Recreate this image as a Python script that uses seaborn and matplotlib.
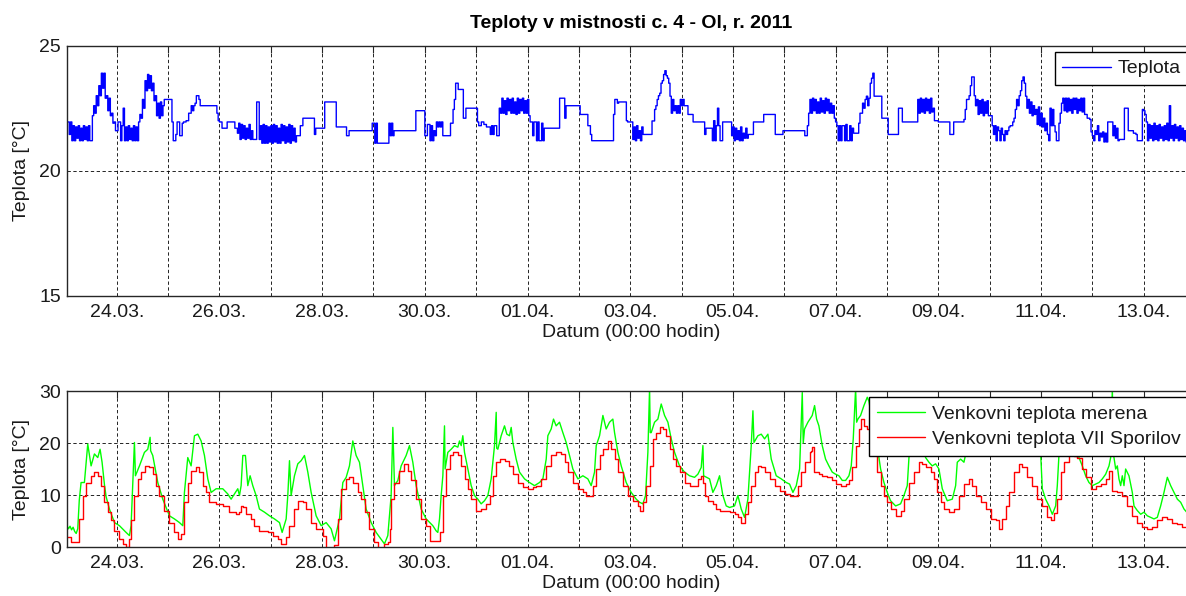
import numpy as np
import pandas as pd
import matplotlib
matplotlib.use("Agg")
import matplotlib.pyplot as plt
import seaborn as sns

# ---------------- texts ----------------
title = "Teploty v mistnosti c. 4 - Ol, r. 2011"
y_label = "Teplota [°C]"
x_label = "Datum (00:00 hodin)"
name_room = "Teplota"
name_meas = "Venkovni teplota merena"
name_spor = "Venkovni teplota VII Sporilov"

# x axis: days since 23.03. 00:00
day_ticks = list(range(1, 22))
day_labels = ["24.03.", "", "26.03.", "", "28.03.", "", "30.03.", "", "01.04.", "",
              "03.04.", "", "05.04.", "", "07.04.", "", "09.04.", "", "11.04.", "", "13.04."]
room_yticks = [15, 20, 25]
out_yticks = [0, 10, 20, 30]

# ---------------- room temperature (sampled every 0.025 day) ----------------
room_step = 0.025
room_0323 = [21.95, 21.95, 21.95, 21.45, 21.95, 21.2, 21.8, 21.2, 21.75, 21.3,
             21.8, 21.2, 21.7, 21.2, 21.8, 21.25, 21.75, 21.2, 21.8, 21.2,
             21.2, 22.2, 22.6, 22.3, 23.0, 22.6, 23.4, 23.0, 23.9, 23.3,
             23.9, 22.9, 23.0, 22.4, 22.9, 22.2, 22.3, 21.9, 21.95, 21.6]
room_0324 = [21.6, 21.95, 21.95, 21.2, 21.8, 22.5, 21.2, 21.75, 21.2, 21.8,
             21.25, 21.7, 21.2, 21.8, 21.2, 21.75, 21.2, 21.95, 22.25, 22.1,
             22.85, 22.5, 23.6, 23.2, 23.85, 23.3, 23.8, 23.2, 23.5, 22.8,
             23.0, 22.2, 22.7, 22.1, 22.75, 22.2, 22.6, 22.85, 22.85, 22.85]
room_0325 = [22.85, 22.85, 22.85, 21.95, 21.2, 21.2, 21.45, 21.95, 21.95, 21.4,
             21.4, 21.9, 21.95, 21.95, 22.0, 22.0, 22.3, 22.3, 22.6, 22.4,
             22.6, 22.7, 23.0, 23.0, 22.85, 22.6, 22.6, 22.6, 22.6, 22.6,
             22.6, 22.6, 22.6, 22.6, 22.6, 22.6, 22.6, 22.6, 22.3, 22.0]
room_0326 = [21.95, 21.95, 21.7, 21.7, 21.7, 21.7, 21.95, 21.95, 21.95, 21.95,
             21.95, 21.95, 21.7, 21.7, 21.5, 21.9, 21.25, 21.85, 21.3, 21.8,
             21.25, 21.7, 21.3, 21.85, 21.25, 21.6, 21.25, 21.25, 21.25, 22.75,
             22.75, 21.25, 21.8, 21.1, 21.85, 21.1, 21.8, 21.1, 21.75, 21.15]
room_0327 = [21.8, 21.1, 21.85, 21.15, 21.8, 21.1, 21.7, 21.1, 21.85, 21.2,
             21.8, 21.1, 21.75, 21.15, 21.85, 21.1, 21.8, 21.2, 21.7, 21.15,
             21.4, 21.4, 21.4, 21.8, 21.8, 22.1, 22.1, 22.1, 22.1, 22.1,
             22.1, 22.1, 22.1, 22.1, 21.45, 21.7, 21.7, 21.7, 21.7, 21.7]
room_0328 = [21.7, 21.7, 22.75, 22.75, 22.75, 22.75, 22.75, 22.75, 22.75, 22.75,
             22.75, 21.75, 21.75, 21.75, 21.75, 21.75, 21.75, 21.75, 21.75, 21.4,
             21.4, 21.6, 21.6, 21.6, 21.6, 21.6, 21.6, 21.6, 21.6, 21.6,
             21.6, 21.6, 21.6, 21.6, 21.6, 21.6, 21.6, 21.6, 21.6, 21.9]
room_0329 = [21.9, 21.1, 21.9, 21.1, 21.1, 21.1, 21.1, 21.1, 21.1, 21.1,
             21.1, 21.1, 21.9, 21.4, 21.9, 21.4, 21.6, 21.6, 21.6, 21.6,
             21.6, 21.6, 21.6, 21.6, 21.6, 21.6, 21.6, 21.6, 21.6, 21.6,
             21.6, 21.6, 21.6, 22.4, 22.4, 22.4, 22.4, 22.4, 22.4, 22.4]
room_0330 = [21.4, 21.4, 21.85, 21.85, 21.2, 21.8, 21.2, 21.6, 21.4, 21.95,
             21.75, 21.95, 21.75, 21.95, 21.4, 21.4, 21.4, 21.4, 21.4, 21.4,
             21.9, 21.9, 22.45, 22.85, 23.5, 23.5, 23.25, 23.25, 23.25, 23.25,
             22.1, 22.1, 22.5, 22.5, 22.5, 22.5, 22.5, 22.5, 22.5, 22.5]
room_0331 = [22.5, 21.95, 21.8, 21.8, 21.95, 21.95, 21.85, 21.85, 21.75, 21.75,
             21.75, 21.45, 21.8, 21.45, 21.8, 21.8, 21.4, 21.4, 22.5, 22.3,
             22.9, 22.3, 22.8, 22.25, 22.9, 22.4, 22.85, 22.3, 22.9, 22.3,
             22.75, 22.25, 22.9, 22.3, 22.85, 22.4, 22.9, 22.3, 22.8, 22.3]
room_0401 = [22.85, 22.2, 21.95, 21.95, 21.4, 21.95, 21.95, 21.2, 21.95, 21.2,
             21.2, 21.9, 21.2, 21.7, 21.7, 21.7, 21.7, 21.7, 21.7, 21.7,
             21.7, 21.7, 21.7, 21.7, 21.7, 22.9, 22.9, 22.9, 22.9, 22.1,
             22.6, 22.6, 22.6, 22.6, 22.6, 22.6, 22.6, 22.6, 22.6, 22.6]
room_0402 = [22.6, 22.25, 22.25, 22.25, 22.25, 22.25, 22.25, 21.8, 21.8, 21.45,
             21.2, 21.2, 21.2, 21.2, 21.2, 21.2, 21.2, 21.2, 21.2, 21.2,
             21.2, 21.2, 21.2, 21.2, 21.2, 21.2, 21.2, 22.25, 22.85, 22.85,
             22.7, 22.75, 22.75, 22.75, 22.75, 22.75, 22.75, 22.0, 21.95, 21.95]
room_0403 = [21.95, 21.95, 21.25, 21.75, 21.2, 21.8, 21.3, 21.6, 21.2, 21.75,
             21.45, 21.45, 21.45, 21.45, 21.45, 21.45, 21.45, 21.99, 21.99, 22.45,
             22.6, 22.85, 23.0, 23.1, 23.5, 23.6, 23.85, 24.0, 23.8, 23.7,
             23.5, 22.98, 22.3, 22.85, 22.4, 22.6, 22.3, 22.6, 22.3, 22.85]
room_0404 = [22.6, 22.85, 22.6, 22.6, 22.6, 22.25, 22.25, 22.25, 22.25, 21.95,
             21.95, 21.95, 21.95, 21.95, 21.95, 21.95, 21.95, 21.95, 21.45, 21.7,
             21.7, 21.7, 21.7, 21.7, 21.2, 22.0, 21.2, 21.8, 22.5, 21.8,
             21.2, 21.2, 21.95, 21.95, 21.95, 21.95, 21.95, 21.95, 21.95, 21.4]
room_0405 = [21.75, 21.2, 21.7, 21.25, 21.6, 21.2, 21.75, 21.2, 21.5, 21.3,
             21.7, 21.3, 21.45, 21.45, 21.45, 21.45, 21.95, 21.95, 21.95, 21.95,
             21.95, 21.95, 21.95, 21.95, 22.25, 22.25, 22.25, 22.25, 22.25, 22.25,
             22.25, 22.25, 22.25, 21.45, 21.45, 21.45, 21.45, 21.45, 21.45, 21.6]
room_0406 = [21.6, 21.6, 21.6, 21.6, 21.6, 21.6, 21.6, 21.6, 21.6, 21.6,
             21.6, 21.6, 21.6, 21.6, 21.6, 21.6, 21.4, 21.4, 21.8, 22.3,
             22.85, 22.3, 22.9, 22.4, 22.85, 22.3, 22.75, 22.3, 22.9, 22.35,
             22.8, 22.3, 22.9, 22.4, 22.85, 22.3, 22.7, 22.3, 22.6, 22.1]
room_0407 = [21.95, 21.8, 21.2, 21.8, 21.2, 21.8, 21.8, 21.2, 21.85, 21.2,
             21.2, 21.8, 21.2, 21.7, 21.5, 21.5, 21.5, 21.5, 21.9, 22.3,
             22.3, 22.7, 22.5, 22.85, 22.98, 22.6, 22.9, 23.5, 23.7, 23.9,
             22.98, 22.98, 22.98, 22.98, 22.98, 22.98, 22.1, 22.1, 22.1, 22.1]
room_0408 = [22.1, 21.45, 21.45, 21.45, 21.45, 21.45, 21.45, 21.45, 21.45, 22.5,
             22.5, 22.5, 21.95, 21.95, 21.95, 21.95, 21.95, 21.95, 21.95, 21.95,
             21.95, 21.95, 21.95, 21.95, 22.85, 22.3, 22.9, 22.35, 22.85, 22.3,
             22.9, 22.4, 22.85, 22.3, 22.9, 22.35, 22.5, 22.0, 22.0, 22.0]
room_0409 = [21.95, 21.95, 21.95, 21.95, 21.95, 21.95, 21.95, 21.95, 21.95, 21.45,
             21.45, 21.45, 21.95, 21.95, 21.95, 21.95, 21.95, 21.95, 21.95, 21.95,
             22.05, 22.45, 22.85, 22.85, 23.0, 23.4, 23.75, 23.75, 23.0, 22.6,
             22.85, 22.25, 22.8, 22.3, 22.85, 22.2, 22.75, 22.3, 22.8, 22.2]
room_0410 = [22.2, 22.2, 21.8, 21.45, 21.8, 21.2, 21.75, 21.6, 21.2, 21.7,
             21.45, 21.2, 21.6, 21.45, 21.6, 21.75, 21.8, 21.8, 21.95, 22.1,
             22.45, 22.85, 22.6, 23.0, 23.2, 23.6, 23.75, 23.5, 22.98, 22.5,
             22.85, 22.3, 22.75, 22.2, 22.6, 22.25, 22.45, 21.85, 22.55, 21.8]
room_0411 = [22.3, 21.75, 22.1, 21.6, 21.9, 21.45, 21.2, 22.5, 21.8, 22.45,
             21.8, 21.55, 21.2, 21.2, 21.9, 22.3, 22.7, 22.9, 22.4, 22.9,
             22.35, 22.9, 22.4, 22.85, 22.3, 22.9, 22.45, 22.9, 22.3, 22.85,
             22.4, 22.9, 22.35, 22.9, 22.25, 22.25, 22.1, 22.1, 22.05, 21.55]
room_0412 = [21.4, 21.2, 21.6, 21.45, 21.8, 21.2, 21.5, 21.35, 21.55, 21.15,
             21.5, 21.15, 21.95, 21.95, 21.95, 21.95, 21.4, 21.8, 21.3, 21.7,
             21.2, 21.25, 21.25, 21.25, 21.25, 22.5, 22.5, 22.5, 21.6, 21.6,
             21.6, 21.6, 21.5, 21.5, 21.45, 21.2, 21.2, 21.2, 21.2, 22.45]
room_0413 = [22.4, 22.25, 21.95, 21.2, 21.85, 21.3, 21.8, 21.2, 21.9, 21.25,
             21.8, 21.2, 21.85, 21.3, 21.75, 21.2, 21.8, 21.25, 21.9, 21.2,
             22.6, 21.3, 21.8, 21.2, 21.85, 21.3, 21.75, 21.2, 21.8, 21.25,
             21.7, 21.2, 21.6, 21.15, 21.5, 21.2, 21.6, 21.2, 21.5, 21.2]

# ---------------- outdoor temperatures: (day, degC) ----------------
meas_a = [(0.03, 4.1), (0.06, 3.5), (0.09, 4.0), (0.12, 3.3), (0.15, 3.8), (0.18, 3.0), (0.21, 2.6),
          (0.24, 3.5), (0.27, 9.0), (0.305, 12.4), (0.37, 12.4), (0.435, 19.8), (0.50, 15.6),
          (0.565, 17.9), (0.63, 17.2), (0.675, 18.8), (0.714, 16.3), (0.76, 12.0), (0.792, 9.7),
          (0.857, 7.3), (0.955, 4.7), (1.052, 4.1), (1.182, 2.8), (1.247, 2.2), (1.279, 4.1),
          (1.344, 20.1), (1.364, 13.7), (1.442, 15.6), (1.539, 18.2), (1.604, 18.8), (1.649, 21.1),
          (1.66, 18.5), (1.701, 17.6), (1.799, 12.4), (1.896, 9.2), (2.026, 6.0), (2.123, 5.4),
          (2.221, 4.7), (2.286, 4.1), (2.318, 10.5), (2.383, 17.2), (2.448, 15.6), (2.513, 21.4),
          (2.578, 21.7), (2.643, 20.4), (2.708, 17.6), (2.773, 13.1), (2.838, 10.5), (2.935, 11.2),
          (3.065, 11.2), (3.162, 10.2), (3.227, 9.2), (3.292, 10.2), (3.357, 11.2), (3.39, 9.9),
          (3.422, 11.8), (3.455, 17.6), (3.506, 17.6), (3.552, 11.8), (3.597, 13.7), (3.649, 11.8),
          (3.714, 9.9), (3.779, 7.3), (3.877, 6.7), (3.974, 6.0), (4.071, 5.4), (4.169, 4.7),
          (4.221, 2.8), (4.299, 5.4), (4.331, 9.9), (4.364, 16.6), (4.396, 9.9), (4.461, 13.7),
          (4.526, 16.0), (4.591, 16.6), (4.656, 17.6), (4.721, 14.4), (4.786, 10.5), (4.883, 6.0),
          (4.981, 4.1), (5.078, 4.7), (5.175, 3.5), (5.24, 1.2), (5.338, 5.4), (5.403, 12.4),
          (5.468, 13.4), (5.532, 15.6), (5.597, 20.4), (5.662, 17.6), (5.727, 16.3), (5.792, 11.8),
          (5.857, 7.3), (5.955, 4.7), (6.052, 2.8), (6.149, 1.5), (6.214, 0.6), (6.279, 2.2),
          (6.344, 9.9), (6.377, 23.0), (6.409, 11.8), (6.474, 12.8), (6.539, 15.6), (6.636, 17.6),
          (6.701, 19.5), (6.766, 16.3), (6.831, 11.8), (6.929, 7.3), (7.026, 5.4), (7.156, 4.1)]
meas_b = [(7.221, 3.1), (7.253, 2.8), (7.286, 5.4), (7.318, 9.9), (7.351, 13.7), (7.383, 23.3),
          (7.395, 15.0), (7.416, 16.3), (7.448, 18.2), (7.513, 18.8), (7.578, 19.5), (7.643, 19.2),
          (7.675, 20.4), (7.708, 19.5), (7.74, 21.4), (7.773, 18.2), (7.838, 15.0), (7.903, 11.8),
          (7.968, 9.9), (8.032, 9.2), (8.097, 8.3), (8.162, 8.9), (8.227, 9.9), (8.292, 13.1),
          (8.357, 19.5), (8.39, 25.9), (8.40, 19.0), (8.422, 18.8), (8.487, 21.4), (8.552, 23.3),
          (8.597, 21.7), (8.649, 21.4), (8.682, 23.0), (8.714, 20.1), (8.779, 16.9), (8.844, 14.4),
          (8.942, 13.1), (9.039, 12.4), (9.136, 11.8), (9.234, 12.4), (9.299, 13.1), (9.364, 16.9),
          (9.396, 21.4), (9.461, 22.7), (9.506, 24.6), (9.558, 23.3), (9.623, 24.0), (9.688, 22.0),
          (9.753, 20.1), (9.818, 17.6), (9.883, 15.0), (9.981, 13.1), (10.078, 13.7), (10.175, 13.1),
          (10.24, 11.8), (10.305, 14.4), (10.338, 19.5), (10.403, 21.4), (10.468, 25.3), (10.532, 22.7),
          (10.597, 24.0), (10.662, 24.6), (10.695, 22.0), (10.76, 18.2), (10.825, 15.6), (10.922, 12.4),
          (11.019, 10.5), (11.117, 9.2), (11.182, 8.6), (11.247, 8.3), (11.299, 9.9), (11.344, 18.2),
          (11.377, 30.5), (11.39, 22.0), (11.409, 22.0), (11.474, 24.0), (11.539, 24.6), (11.604, 27.5),
          (11.669, 25.3), (11.734, 24.0), (11.799, 20.8), (11.864, 18.2), (11.961, 15.6), (12.058, 14.4),
          (12.156, 13.7), (12.253, 13.4), (12.318, 14.0), (12.383, 15.3), (12.416, 19.5), (12.43, 13.7),
          (12.545, 13.1), (12.61, 10.5), (12.675, 11.8), (12.74, 13.7), (12.805, 9.9), (12.87, 7.9),
          (12.935, 7.6), (13.032, 7.9), (13.097, 9.9), (13.162, 7.3), (13.227, 5.7), (13.292, 9.2),
          (13.357, 19.5), (13.39, 26.2), (13.41, 20.1), (13.487, 21.4), (13.552, 21.7), (13.617, 20.8),
          (13.682, 21.7), (13.747, 16.9), (13.844, 13.7), (13.942, 13.1), (14.039, 12.4), (14.104, 12.1),
          (14.169, 10.5), (14.234, 11.8), (14.299, 15.0), (14.351, 29.7), (14.37, 20.0), (14.396, 22.7),
          (14.461, 24.0)]
meas_c = [(14.545, 25.3), (14.591, 27.2), (14.63, 24.6), (14.675, 23.3), (14.74, 19.5), (14.805, 16.9),
          (14.87, 15.6), (14.935, 14.4), (15.0, 14.0), (15.065, 13.7), (15.13, 12.8), (15.195, 12.8),
          (15.26, 13.7), (15.305, 15.6), (15.344, 20.8), (15.39, 30.5), (15.41, 24.0), (15.435, 24.6),
          (15.487, 25.3), (15.552, 27.2), (15.617, 28.8), (15.65, 28.0), (15.75, 22.0), (15.844, 17.2),
          (15.877, 15.0), (15.942, 12.4), (16.006, 10.5), (16.071, 8.9), (16.169, 7.9), (16.266, 8.3),
          (16.331, 9.9), (16.396, 11.8), (16.429, 17.2), (16.5, 21.0), (16.6, 22.0), (16.7, 19.0),
          (16.753, 17.2), (16.818, 16.3), (16.883, 15.6), (16.948, 16.0), (17.013, 15.0), (17.078, 11.2),
          (17.175, 8.9), (17.273, 9.2), (17.338, 11.8), (17.37, 16.3), (17.435, 16.9), (17.5, 16.3),
          (17.532, 17.8), (17.7, 21.0), (18.0, 20.5), (18.3, 21.5), (18.6, 20.5), (18.9, 20.0),
          (18.994, 18.0), (19.026, 11.2), (19.091, 9.2), (19.156, 7.9), (19.221, 6.3), (19.286, 7.9),
          (19.318, 11.8), (19.351, 17.8), (19.5, 22.0), (19.65, 20.0), (19.74, 17.2), (19.805, 15.6),
          (19.87, 13.7), (19.935, 12.4), (20.0, 11.8), (20.065, 12.1), (20.13, 12.4), (20.195, 13.1),
          (20.26, 14.0), (20.325, 15.6), (20.357, 17.2), (20.39, 30.5), (20.41, 18.0), (20.422, 17.2),
          (20.455, 15.0), (20.487, 15.6), (20.519, 13.1), (20.552, 11.8), (20.584, 13.7), (20.617, 11.8),
          (20.649, 15.0), (20.714, 13.7), (20.779, 10.5), (20.812, 7.9), (20.877, 7.0), (20.942, 6.3),
          (21.006, 6.7), (21.071, 6.0), (21.136, 5.7), (21.201, 5.4), (21.266, 5.7), (21.331, 7.9),
          (21.396, 10.5), (21.461, 13.4), (21.526, 11.8), (21.591, 10.5), (21.656, 9.2), (21.721, 8.6),
          (21.786, 7.3), (21.838, 6.7), (22.0, 6.0)]

spor_a = [(0.03, 1.9), (0.11, 1.0), (0.24, 0.9), (0.273, 5.4), (0.338, 9.9), (0.403, 12.4), (0.5, 13.7),
          (0.565, 14.4), (0.63, 13.7), (0.695, 11.8), (0.76, 8.6), (0.825, 6.7), (0.89, 5.1), (0.955, 3.1),
          (1.052, 1.5), (1.117, 0.6), (1.182, 0.0), (1.247, 1.5), (1.279, 5.1), (1.344, 9.9), (1.409, 13.1),
          (1.474, 14.4), (1.558, 15.6), (1.636, 15.3), (1.701, 14.0), (1.766, 11.8), (1.831, 9.9),
          (1.929, 7.0), (2.026, 4.7), (2.123, 2.8), (2.188, 1.5), (2.253, 2.5), (2.318, 8.6), (2.383, 12.4),
          (2.448, 14.7), (2.545, 15.3), (2.61, 14.4), (2.675, 11.8), (2.74, 10.5), (2.805, 8.6),
          (2.935, 8.3), (3.065, 7.9), (3.195, 6.7), (3.325, 6.3), (3.39, 6.7), (3.422, 7.9), (3.455, 7.6),
          (3.519, 6.3), (3.617, 5.4), (3.682, 4.1), (3.779, 3.1), (3.942, 2.8), (4.039, 2.2), (4.136, 1.5),
          (4.201, 0.6), (4.299, 1.9), (4.364, 4.1), (4.461, 7.3), (4.526, 8.9), (4.623, 8.6), (4.688, 7.3),
          (4.786, 4.7), (4.883, 3.5), (5.013, 2.2), (5.078, -0.4), (5.175, -0.7), (5.24, 0.3), (5.305, 5.4),
          (5.37, 11.2), (5.468, 13.1), (5.532, 13.4), (5.597, 12.4), (5.695, 10.5), (5.76, 9.2),
          (5.825, 6.7), (5.922, 3.5), (6.019, 0.9), (6.084, -0.7), (6.214, 0.6), (6.279, 0.9), (6.312, 3.5),
          (6.344, 9.2), (6.409, 12.4), (6.506, 14.7), (6.604, 16.0), (6.669, 14.7), (6.734, 12.8),
          (6.831, 9.2), (6.929, 5.4), (7.026, 4.1), (7.091, 1.2)]
spor_b = [(7.253, 1.2), (7.286, 2.8), (7.351, 9.9), (7.416, 15.0), (7.481, 17.6), (7.545, 18.2),
          (7.643, 17.6), (7.708, 15.6), (7.773, 13.1), (7.838, 11.2), (7.903, 9.2), (8.0, 7.0),
          (8.097, 7.3), (8.195, 8.3), (8.26, 9.9), (8.325, 13.7), (8.39, 16.3), (8.455, 16.9),
          (8.552, 16.6), (8.649, 15.6), (8.714, 14.0), (8.812, 12.4), (8.909, 11.5), (9.006, 11.2),
          (9.104, 11.5), (9.169, 11.8), (9.266, 13.1), (9.364, 15.6), (9.461, 17.6), (9.558, 18.2),
          (9.656, 17.9), (9.721, 16.3), (9.786, 14.4), (9.883, 12.4), (9.981, 11.2), (10.078, 10.5),
          (10.143, 9.9), (10.208, 9.9), (10.273, 11.8), (10.338, 15.0), (10.403, 17.6), (10.468, 18.8),
          (10.565, 20.4), (10.63, 18.8), (10.695, 16.9), (10.76, 14.4), (10.857, 11.8), (10.955, 9.9),
          (11.052, 8.9), (11.149, 7.9), (11.182, 7.0), (11.247, 8.6), (11.312, 11.8), (11.377, 15.6),
          (11.442, 20.8), (11.506, 22.0), (11.571, 23.0), (11.636, 22.7), (11.701, 21.4), (11.766, 18.8),
          (11.831, 16.9), (11.896, 15.6), (11.961, 14.4), (12.058, 12.4), (12.156, 11.8), (12.253, 11.8),
          (12.318, 13.1), (12.383, 13.7), (12.416, 12.4), (12.448, 9.9), (12.513, 8.9), (12.61, 8.3),
          (12.675, 7.3), (12.74, 7.0), (12.838, 7.0), (12.935, 6.7), (13.032, 6.3), (13.097, 5.7),
          (13.162, 4.7), (13.227, 6.3), (13.292, 8.6), (13.357, 11.8), (13.422, 14.4), (13.487, 15.6),
          (13.552, 15.3), (13.617, 14.4), (13.714, 13.1), (13.812, 11.8), (13.909, 10.8), (14.006, 10.2),
          (14.104, 9.9), (14.201, 9.9), (14.266, 11.8), (14.331, 14.4), (14.396, 16.3), (14.494, 18.2)]
spor_c = [(14.52, 18.5), (14.545, 19.2), (14.58, 14.4), (14.675, 14.0), (14.74, 13.7), (14.838, 13.4),
          (14.935, 12.8), (15.0, 12.1), (15.1, 11.8), (15.195, 12.1), (15.26, 12.8), (15.325, 15.3),
          (15.39, 19.5), (15.455, 22.7), (15.487, 24.6), (15.552, 23.3), (15.617, 22.7), (15.682, 20.8),
          (15.747, 18.2), (15.812, 14.4), (15.877, 11.8), (15.942, 9.9), (16.006, 8.6), (16.071, 7.3),
          (16.169, 6.0), (16.266, 7.0), (16.331, 9.2), (16.429, 12.4), (16.526, 14.4), (16.623, 16.3),
          (16.688, 16.0), (16.753, 15.3), (16.851, 14.4), (16.916, 13.1), (16.981, 10.5), (17.045, 8.6),
          (17.11, 7.3), (17.208, 6.7), (17.305, 7.3), (17.403, 9.9), (17.5, 12.1), (17.597, 13.1),
          (17.662, 11.8), (17.727, 9.9), (17.825, 8.6), (17.922, 7.3), (18.019, 5.4), (18.117, 5.1),
          (18.182, 3.5), (18.247, 5.4), (18.312, 7.9), (18.377, 10.5), (18.474, 14.4), (18.571, 16.0),
          (18.636, 15.3), (18.734, 13.4), (18.831, 11.8), (18.929, 9.2), (19.026, 7.9), (19.123, 5.7),
          (19.188, 5.1), (19.253, 6.5), (19.318, 9.2), (19.383, 14.4), (19.448, 16.3), (19.55, 18.5),
          (19.65, 17.5), (19.708, 17.2), (19.805, 15.0), (19.87, 13.4), (19.968, 11.2), (20.065, 11.8),
          (20.162, 12.1), (20.26, 13.1), (20.325, 14.7), (20.39, 10.8), (20.487, 10.5), (20.584, 9.9),
          (20.682, 7.9), (20.779, 6.0), (20.877, 4.7), (20.974, 3.8), (21.071, 3.5), (21.169, 3.8),
          (21.266, 5.1), (21.364, 5.7), (21.461, 5.4), (21.559, 4.7), (21.656, 4.4), (21.753, 3.8),
          (21.838, 3.8), (22.0, 3.6)]

# ---------------- assemble data frames ----------------
room_days = [room_0323, room_0324, room_0325, room_0326, room_0327, room_0328, room_0329,
             room_0330, room_0331, room_0401, room_0402, room_0403, room_0404, room_0405,
             room_0406, room_0407, room_0408, room_0409, room_0410, room_0411, room_0412, room_0413]
rt, rv = [], []
for d, vals in enumerate(room_days):
    for i, v in enumerate(vals):
        rt.append(d + i * room_step)
        rv.append(v)
df_room = pd.DataFrame({"den": rt, "teplota": rv})
df_meas = pd.DataFrame(meas_a + meas_b + meas_c, columns=["den", "teplota"])
df_spor = pd.DataFrame(spor_a + spor_b + spor_c, columns=["den", "teplota"])

# ---------------- style ----------------
sns.set_style("white")
plt.rcParams["font.family"] = ["Liberation Sans", "DejaVu Sans"]
plt.rcParams["axes.unicode_minus"] = False
FS = 14
ink = "#1a1a1a"

fig = plt.figure(figsize=(11.86, 5.96), dpi=100)
ax1 = fig.add_axes([0.05624, 0.50386, 0.95135, 0.41946])
ax2 = fig.add_axes([0.05624, 0.08221, 0.95135, 0.26174])

sns.lineplot(data=df_room, x="den", y="teplota", ax=ax1, color="#0000ff", lw=1.0,
             drawstyle="steps-post", estimator=None, sort=False, label=name_room)
sns.lineplot(data=df_meas, x="den", y="teplota", ax=ax2, color="#00ff00", lw=1.0,
             estimator=None, sort=False, label=name_meas)
sns.lineplot(data=df_spor, x="den", y="teplota", ax=ax2, color="#ff0000", lw=1.0,
             drawstyle="steps-post", estimator=None, sort=False, label=name_spor)

for ax, lim, yt in ((ax1, (15, 25), room_yticks), (ax2, (0, 30), out_yticks)):
    ax.set_xlim(0.025, 22.0)
    ax.set_ylim(*lim)
    ax.set_xticks(day_ticks)
    ax.set_xticklabels(day_labels)
    ax.set_yticks(yt)
    ax.set_axisbelow(True)
    ax.grid(True, color="black", linestyle=(0, (4, 3)), linewidth=0.6)
    for s in ax.spines.values():
        s.set_visible(True)
        s.set_color("#262626")
        s.set_linewidth(1.0)
    ax.tick_params(axis="both", direction="in", length=5, width=0.8, top=True, right=True,
                   labelsize=FS, colors="#262626", labelcolor=ink)
    ax.tick_params(axis="x", pad=6)
    ax.tick_params(axis="y", pad=4)
    ax.set_xlabel(x_label, fontsize=FS, color=ink, labelpad=2)
    ax.set_ylabel(y_label, fontsize=FS, color=ink, labelpad=7)

ax1.set_title(title, fontsize=FS, fontweight="bold", color="black", pad=13)

leg1 = ax1.legend(loc="upper right", fontsize=FS, frameon=True, fancybox=False, framealpha=1,
                  edgecolor="black", borderpad=0.4, handlelength=2.5, handletextpad=0.35,
                  borderaxespad=0.32)
leg1.get_frame().set_linewidth(1.0)
leg2 = ax2.legend(loc="upper right", fontsize=FS, frameon=True, fancybox=False, framealpha=1,
                  edgecolor="black", borderpad=0.4, handlelength=2.5, handletextpad=0.35,
                  borderaxespad=0.32, labelspacing=0.4)
leg2.get_frame().set_linewidth(1.0)
for leg in (leg1, leg2):
    for t in leg.get_texts():
        t.set_color(ink)

fig.savefig("out.png", dpi=100)
